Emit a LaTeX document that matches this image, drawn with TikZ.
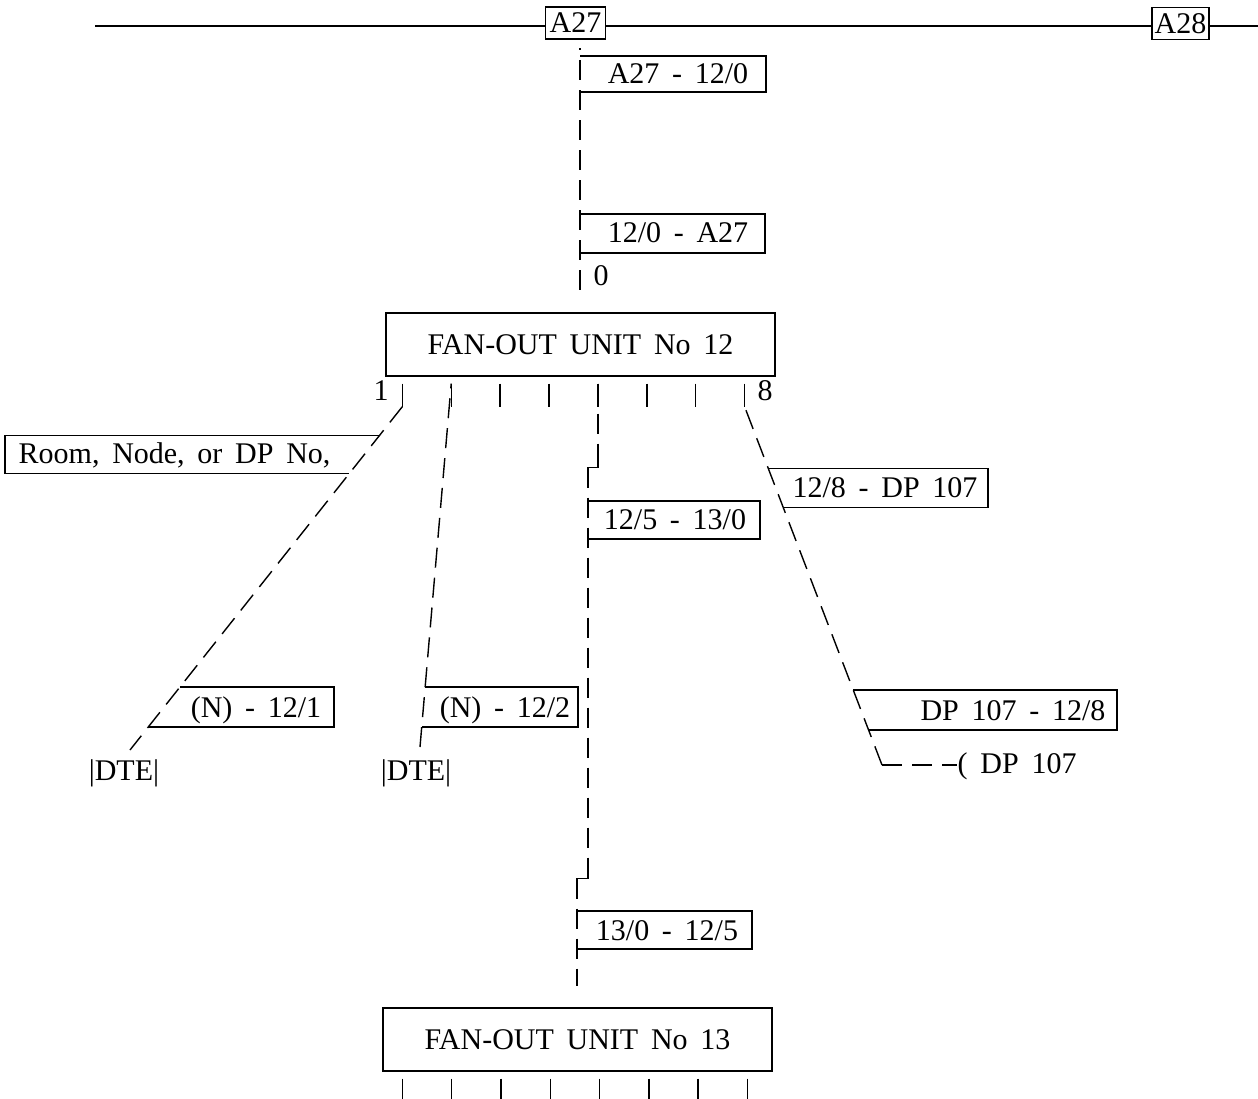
\documentclass[tikz,border=0pt]{standalone}
\usepackage{fontspec}
\setmainfont{Liberation Serif}[WordSpace=1.7]
\usetikzlibrary{calc}

\begin{document}
\begin{tikzpicture}[x=1pt, y=-1pt, line width=1.4pt,
    every node/.style={font=\fontsize{30}{34}\selectfont, inner sep=0pt},
    wire/.style={dash pattern=on 20pt off 10pt},
    stn/.style={draw, minimum width=60pt, minimum height=32pt},
    unit/.style={draw, minimum width=389pt, minimum height=63pt}]
    \useasboundingbox (0,0) rectangle (1258,1099);
    \coordinate (L) at (95,26);
    \coordinate (R) at (1258,26);
    \node[stn] (A27) at (575.5,23) {A27};
    \node[stn, minimum width=57pt] (A28) at (1180.5,23.5) {A28};
    \draw (L) -- (L -| A27.west) (L -| A27.east) -- (L -| A28.west) (L -| A28.east) -- (R);

    \coordinate (t0) at (580,290);
    \draw[wire, shorten >=8pt] (t0) -- (t0 |- A27.south);
    \node[anchor=base] (n0) at (601,286) {0};
    \coordinate (k1) at (766,56); \coordinate (k1b) at (766,92);
    \draw (k1 -| t0) -- (k1) -- (k1b) -- (k1b -| t0);
    \node[anchor=base] (l1) at (678,84) {A27 - 12/0};
    \coordinate (k2) at (765,214); \coordinate (k2b) at (765,253);
    \draw (k2 -| t0) -- (k2) -- (k2b) -- (k2b -| t0);
    \node[anchor=base] (l2) at (678,243) {12/0 - A27};

    \node[unit] (F12) at (580.5,344.5) {FAN-OUT UNIT No 12};
    \foreach \i in {1,...,8}
        \draw ($(F12.south west)+({17+48.9*(\i-1)},7)$) coordinate (u\i) -- ++(0,23) coordinate (w\i);
    \node[anchor=base] (n1) at (381,400) {1};
    \node[anchor=base] (n8) at (765,400) {8};

    \coordinate (e1) at (130,750);
    \draw[wire] (w1) -- (e1);
    \coordinate (r5) at (5,0);
    \coordinate (g5) at ($(w1)!0.0843!(e1)$);
    \coordinate (h5) at ($(w1)!0.1948!(e1)$);
    \draw (g5) -- (g5 -| r5) -- (h5 -| r5) -- (h5);
    \node[anchor=base west] (l5) at (18,463) {Room, Node, or DP No,};
    \coordinate (r6) at (334,0);
    \coordinate (g6) at ($(w1)!0.8169!(e1)$);
    \coordinate (h6) at ($(w1)!0.9331!(e1)$);
    \draw (g6) -- (g6 -| r6) -- (h6 -| r6) -- (h6);
    \node[anchor=base] (l6) at (256,717) {(N) - 12/1};
    \node[anchor=base] (d1) at (124,780) {|DTE|};

    \coordinate (e2) at (420,747);
    \draw[wire] (e2) -- (u2);
    \coordinate (r7) at (578,0);
    \coordinate (g7) at ($(u2)!0.835!(e2)$);
    \coordinate (h7) at ($(u2)!0.945!(e2)$);
    \draw (g7) -- (g7 -| r7) -- (h7 -| r7) -- (h7);
    \node[anchor=base] (l7) at (505,717) {(N) - 12/2};
    \node[anchor=base] (d2) at (416,780) {|DTE|};

    \coordinate (s1) at ($(u5)+(0,84)$);
    \coordinate (s2) at ($(s1)+(-10,0)$);
    \coordinate (s3) at ($(s2)+(0,411)$);
    \coordinate (s4) at ($(s3)+(-11,0)$);
    \coordinate (s5) at ($(s4)+(0,107)$);
    \draw[wire] (u5) -- (s1);
    \draw ($(s1)+(0,-12)$) -- (s1) -- (s2) -- ++(0,12);
    \draw[wire] (s2) -- (s3);
    \draw ($(s3)+(0,-12)$) -- (s3) -- (s4) -- ++(0,12);
    \draw[wire] (s4) -- (s5);
    \coordinate (k3) at (760,501); \coordinate (k3b) at (760,539);
    \draw (k3 -| s2) -- (k3) -- (k3b) -- (k3b -| s2);
    \node[anchor=base] (l3) at (675,529) {12/5 - 13/0};
    \coordinate (k4) at (752,911); \coordinate (k4b) at (752,949);
    \draw (k4 -| s4) -- (k4) -- (k4b) -- (k4b -| s4);
    \node[anchor=base] (l4) at (667,940) {13/0 - 12/5};

    \coordinate (c8) at (882,765);
    \draw[wire] (c8) -- (w8);
    \coordinate (r8) at (988,0);
    \coordinate (g8) at ($(w8)!0.1727!(c8)$);
    \coordinate (h8) at ($(w8)!0.2813!(c8)$);
    \draw (g8) -- (g8 -| r8) -- (h8 -| r8) -- (h8);
    \node[anchor=base] (l8) at (885,497) {12/8 - DP 107};
    \coordinate (r9) at (1117,0);
    \coordinate (g9) at ($(w8)!0.791!(c8)$);
    \coordinate (h9) at ($(w8)!0.9025!(c8)$);
    \draw (g9) -- (g9 -| r9) -- (h9 -| r9) -- (h9);
    \node[anchor=base] (l9) at (1013,720) {DP 107 - 12/8};
    \node[anchor=base west] (dp) at (957,773) {( DP 107};
    \draw[wire] (c8) -- (c8 -| dp.west);

    \node[unit] (F13) at (577.5,1039.5) {FAN-OUT UNIT No 13};
    \foreach \i in {1,...,8}
        \draw ($(F13.south west)+({20+49.3*(\i-1)},7)$) -- ++(0,30);
\end{tikzpicture}
\end{document}
